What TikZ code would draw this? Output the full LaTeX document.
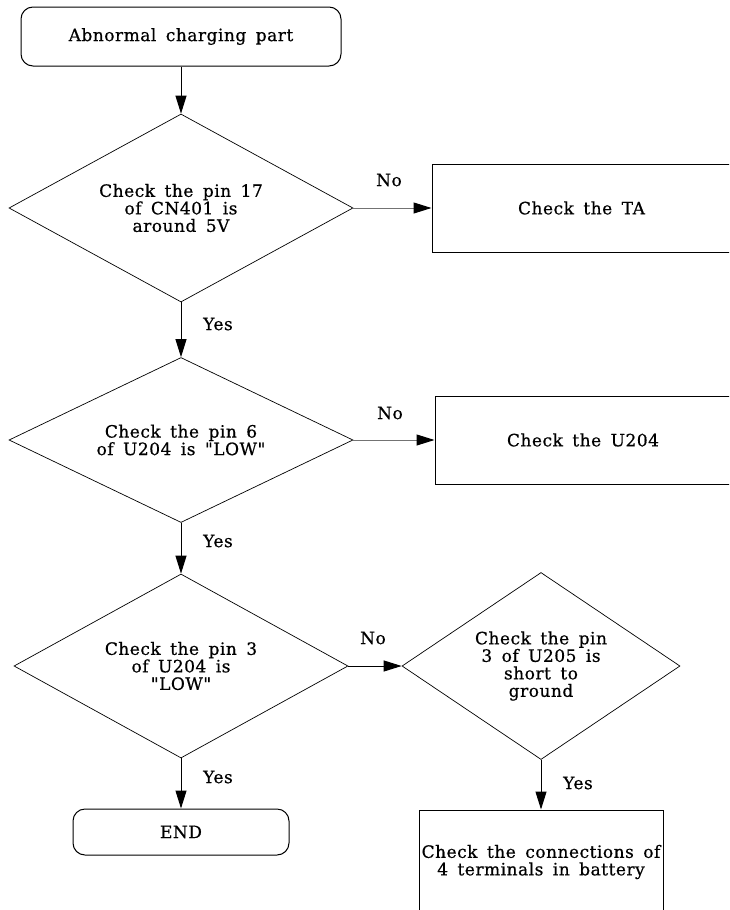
\documentclass[tikz,border=0pt]{standalone}
\usepackage{fontspec}
\setmainfont{DejaVu Serif}[Ligatures=TeXOff,LetterSpace=3,WordSpace=1.6,FakeBold=0.6]
\usetikzlibrary{shapes.geometric,arrows.meta}
\begin{document}
\begin{tikzpicture}[x=1pt,y=-1pt,
  every node/.style={font=\fontsize{17}{17.5}\selectfont, inner sep=0pt, align=center},
  term/.style={draw, line width=1pt, rounded corners=12pt},
  proc/.style={draw, line width=1pt},
  dec/.style={draw, diamond, shape aspect=1.8, line width=0.7pt},
  arr/.style={line width=1pt, -{Triangle[length=18pt,width=11pt,color=black]}},
  garr/.style={arr, draw=black!55}]
\useasboundingbox (0,0) rectangle (729,910);
\clip (0,0) rectangle (729,910);
\node[term, minimum width=320pt, minimum height=59pt] (start) at (181,36.5) {Abnormal charging part};
\node[dec, minimum width=344pt, minimum height=188pt] (d1) at (181,208) {Check the pin 17\\of CN401 is\\around 5V};
\node[proc, minimum width=299pt, minimum height=88pt] (ta) at (581.5,208) {Check the TA};
\node[dec, minimum width=344pt, minimum height=165pt] (d2) at (181,440) {Check the pin 6\\of U204 is "LOW"};
\node[proc, minimum width=296pt, minimum height=88pt] (u204) at (583,440) {Check the U204};
\node[dec, minimum width=334pt, minimum height=184pt] (d3) at (181,666) {Check the pin 3\\of U204 is\\"LOW"};
\node[dec, minimum width=278pt, minimum height=187pt] (d4) at (541,666) {Check the pin\\3 of U205 is\\short to\\ground};
\node[proc, minimum width=244pt, minimum height=104pt] (conn) at (541,862) {Check the connections of\\4 terminals in battery};
\node[term, minimum width=216pt, minimum height=46pt] (end) at (181,832) {END};
\node (no1) at (389,180) {No};
\node (no2) at (390,413) {No};
\node (no3) at (373,638) {No};
\node (yes1) at (218,324) {Yes};
\node (yes2) at (218,541) {Yes};
\node (yes3) at (218,777) {Yes};
\node (yes4) at (578,783) {Yes};
\draw[arr] (start.south) -- (d1.north);
\draw[garr] (d1.east) -- (ta.west);
\draw[arr] (d1.south) -- (d2.north);
\draw[garr] (d2.east) -- (u204.west);
\draw[arr] (d2.south) -- (d3.north);
\draw[arr] (d3.east) -- (d4.west);
\draw[arr] (d3.south) -- (end.north);
\draw[arr] (d4.south) -- (conn.north);
\end{tikzpicture}
\end{document}
